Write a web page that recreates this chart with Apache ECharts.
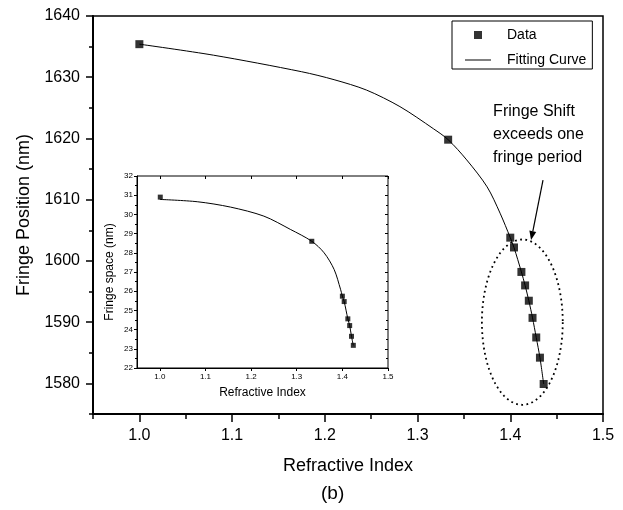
<!DOCTYPE html>
<html>
<head>
<meta charset="utf-8">
<script src="https://cdn.jsdelivr.net/npm/echarts@6/dist/echarts.min.js"></script>
<style>
	html, body { margin: 0; padding: 0; background: #fff; }
	#chart { width: 623px; height: 510px; }
</style>
</head>
<body>
<div id="chart"></div>
<script>
	// measured points (main plot)
	var dataX = [1.000, 1.333, 1.400, 1.404, 1.412, 1.416, 1.420, 1.424, 1.428, 1.432, 1.436];
	var dataY = [1635.4, 1619.8, 1603.8, 1602.2, 1598.2, 1596.0, 1593.5, 1590.7, 1587.5, 1584.2, 1579.9];

	// fitting curve
	var fitX = [1.000, 1.080, 1.175, 1.210, 1.245, 1.281, 1.317, 1.333, 1.353, 1.375, 1.389, 1.400, 1.404, 1.412, 1.416, 1.420, 1.424, 1.428, 1.432, 1.436];
	var fitY = [1635.4, 1633.6, 1630.9, 1629.6, 1627.9, 1625.2, 1621.6, 1619.8, 1616.5, 1612.1, 1607.8, 1603.8, 1602.2, 1598.2, 1596.0, 1593.5, 1590.7, 1587.5, 1584.2, 1579.9];

	// inset: fringe space
	var insetX = [1.001, 1.333, 1.400, 1.404, 1.412, 1.416, 1.420, 1.424];
	var insetY = [30.90, 28.60, 25.74, 25.46, 24.56, 24.21, 23.65, 23.18];
	var insetFitX = [1.000, 1.082, 1.155, 1.228, 1.286, 1.333, 1.360, 1.382, 1.396, 1.400, 1.404, 1.412, 1.416, 1.420, 1.424];
	var insetFitY = [30.78, 30.66, 30.38, 29.91, 29.22, 28.60, 28.00, 27.13, 26.10, 25.74, 25.46, 24.56, 24.21, 23.65, 23.18];

	// tick labels
	var xTicks = [1.0, 1.1, 1.2, 1.3, 1.4, 1.5];
	var yTicks = [1580, 1590, 1600, 1610, 1620, 1630, 1640];

	var FONT = 'Liberation Sans, Arial, sans-serif';
	var black = '#000';

	function zip(xs, ys) {
		var out = [];
		for (var i = 0; i < xs.length; i++) {
			out.push([xs[i], ys[i]]);
		}
		return out;
	}

	function oneDecimal(v) {
		return Number(v).toFixed(1);
	}
	function plain(v) {
		return String(Math.round(v));
	}

	var option = {
		animation: false,
		backgroundColor: '#fff',
		title: {
			text: '(b)',
			left: 316,
			top: 479,
			textStyle: { fontFamily: FONT, fontSize: 19, fontWeight: 'normal', color: black }
		},
		legend: {
			data: [
				{ name: 'Data', icon: 'path://M0,0H10V10H0Z' },
				{ name: 'Fitting Curve', icon: 'path://M0,0H26V1H0Z' }
			],
			orient: 'vertical',
			left: 452,
			top: 21,
			padding: [7, 6, 2, 13],
			itemWidth: 26,
			itemHeight: 8,
			itemGap: 11,
			borderColor: black,
			borderWidth: 1,
			backgroundColor: '#fff',
			selectedMode: false,
			textStyle: { fontFamily: FONT, fontSize: 14, color: black, padding: [0, 0, 0, 11] }
		},
		grid: [
			{ left: 93, right: 20, top: 16, bottom: 96, show: true, borderColor: black, borderWidth: 1.5 },
			{ left: 137, top: 176, width: 251, height: 192, show: true, borderColor: black, borderWidth: 1, backgroundColor: '#fff' }
		],
		xAxis: [
			{
				gridIndex: 0, type: 'value', position: 'bottom', min: 0.95, max: 1.5,
				axisLine: { lineStyle: { color: black, width: 2 } },
				axisTick: { show: true, customValues: xTicks, length: 8, lineStyle: { color: black, width: 1.5 } },
				splitLine: { show: false },
				axisLabel: { customValues: xTicks, formatter: oneDecimal, fontFamily: FONT, fontSize: 16, color: black, margin: 14 },
				name: 'Refractive Index', nameLocation: 'middle', nameGap: 43,
				nameTextStyle: { fontFamily: FONT, fontSize: 18, color: black }
			},
			{
				// short ticks every 0.05
				gridIndex: 0, type: 'value', position: 'bottom', min: 0.95, max: 1.5, interval: 0.05,
				axisLine: { show: false },
				axisTick: { show: true, length: 5, lineStyle: { color: black, width: 1.5 } },
				axisLabel: { show: false },
				splitLine: { show: false }
			},
			{
				gridIndex: 1, type: 'value', position: 'bottom', min: 0.95, max: 1.5,
				axisLine: { lineStyle: { color: black, width: 1 } },
				axisTick: { show: true, customValues: xTicks, length: 3, lineStyle: { color: black } },
				splitLine: { show: false },
				axisLabel: { customValues: xTicks, formatter: oneDecimal, fontFamily: FONT, fontSize: 8, color: black, margin: 5 },
				name: 'Refractive Index', nameLocation: 'middle', nameGap: 19,
				nameTextStyle: { fontFamily: FONT, fontSize: 12, color: black }
			},
			{
				gridIndex: 1, type: 'value', position: 'top', min: 0.95, max: 1.5,
				axisLine: { show: false },
				axisTick: { show: true, customValues: xTicks, inside: true, length: 3, lineStyle: { color: black } },
				axisLabel: { show: false },
				splitLine: { show: false }
			}
		],
		yAxis: [
			{
				gridIndex: 0, type: 'value', position: 'left', min: 1575, max: 1640,
				axisLine: { show: true, lineStyle: { color: black, width: 2 } },
				axisTick: { show: true, customValues: yTicks, length: 7, lineStyle: { color: black, width: 1.5 } },
				splitLine: { show: false },
				axisLabel: { customValues: yTicks, formatter: plain, fontFamily: FONT, fontSize: 16, color: black, margin: 13 },
				name: 'Fringe Position (nm)', nameLocation: 'middle', nameGap: 60,
				nameTextStyle: { fontFamily: FONT, fontSize: 18, color: black }
			},
			{
				// short ticks every 5 nm
				gridIndex: 0, type: 'value', position: 'left', min: 1575, max: 1640, interval: 5,
				axisLine: { show: false },
				axisTick: { show: true, length: 4, lineStyle: { color: black, width: 1.5 } },
				axisLabel: { show: false },
				splitLine: { show: false }
			},
			{
				gridIndex: 1, type: 'value', position: 'left', min: 22, max: 32, interval: 1,
				axisLine: { show: true, lineStyle: { color: black, width: 1 } },
				axisTick: { show: true, length: 3, lineStyle: { color: black } },
				minorTick: { show: true, splitNumber: 2, length: 2, lineStyle: { color: black } },
				splitLine: { show: false },
				axisLabel: { fontFamily: FONT, fontSize: 8, color: black, margin: 4 },
				name: 'Fringe space (nm)', nameLocation: 'middle', nameGap: 21,
				nameTextStyle: { fontFamily: FONT, fontSize: 12, color: black }
			},
			{
				gridIndex: 1, type: 'value', position: 'right', min: 22, max: 32, interval: 1,
				axisLine: { show: false },
				axisTick: { show: true, inside: true, length: 3, lineStyle: { color: black } },
				minorTick: { show: true, splitNumber: 2, length: 2, lineStyle: { color: black } },
				axisLabel: { show: false },
				splitLine: { show: false }
			}
		],
		series: [
			{
				name: 'Fitting Curve', type: 'line', xAxisIndex: 0, yAxisIndex: 0,
				data: zip(fitX, fitY), smooth: 0.3, symbol: 'none',
				lineStyle: { color: black, width: 1 }, itemStyle: { color: black }, z: 2
			},
			{
				name: 'Data', type: 'scatter', xAxisIndex: 0, yAxisIndex: 0,
				data: zip(dataX, dataY), symbol: 'rect', symbolSize: 8,
				itemStyle: { color: black }, z: 3
			},
			{
				name: 'inset fit', type: 'line', xAxisIndex: 2, yAxisIndex: 2,
				data: zip(insetFitX, insetFitY), smooth: 0.3, symbol: 'none',
				lineStyle: { color: black, width: 1 }, z: 4
			},
			{
				name: 'inset data', type: 'scatter', xAxisIndex: 2, yAxisIndex: 2,
				data: zip(insetX, insetY), symbol: 'rect', symbolSize: 5,
				itemStyle: { color: black }, z: 5
			}
		]
	};

	var chart = echarts.init(document.getElementById('chart'));
	chart.setOption(option);

	// annotations: dotted ellipse round the cluster, arrow and note
	var ellipseCenter = [1.413, 1590.0];
	var ellipseRadius = [0.0436, 13.5];
	var arrowFrom = [1.4353, 1613.2];
	var arrowTo = [1.4224, 1603.4];
	var noteAt = [1.3815, 1626.2];

	function px(p) {
		return chart.convertToPixel({ xAxisIndex: 0, yAxisIndex: 0 }, p);
	}

	var c = px(ellipseCenter);
	var r = px([ellipseCenter[0] + ellipseRadius[0], ellipseCenter[1] + ellipseRadius[1]]);
	var rx = r[0] - c[0], ry = c[1] - r[1];
	var ellipsePts = [];
	for (var k = 0; k <= 120; k++) {
		var t = k / 120 * Math.PI * 2;
		ellipsePts.push([c[0] + rx * Math.cos(t), c[1] + ry * Math.sin(t)]);
	}

	var a0 = px(arrowFrom), a1 = px(arrowTo);
	var dx = a1[0] - a0[0], dy = a1[1] - a0[1];
	var len = Math.sqrt(dx * dx + dy * dy);
	var ux = dx / len, uy = dy / len;
	var headLen = 9, headW = 3.5;
	var base = [a1[0] - ux * headLen, a1[1] - uy * headLen];
	var note = px(noteAt);

	chart.setOption({
		graphic: [
			{
				type: 'polyline', silent: true, z: 10,
				shape: { points: ellipsePts },
				style: { fill: null, stroke: black, lineWidth: 1.8, lineDash: [1.8, 3.4] }
			},
			{
				type: 'line', silent: true, z: 10,
				shape: { x1: a0[0], y1: a0[1], x2: base[0], y2: base[1] },
				style: { stroke: black, lineWidth: 1.2 }
			},
			{
				type: 'polygon', silent: true, z: 10,
				shape: {
					points: [
						a1,
						[base[0] - uy * headW, base[1] + ux * headW],
						[base[0] + uy * headW, base[1] - ux * headW]
					]
				},
				style: { fill: black }
			},
			{
				type: 'text', silent: true, z: 10,
				left: note[0], top: note[1],
				style: {
					text: 'Fringe Shift\nexceeds one\nfringe period',
					font: '16px ' + FONT,
					lineHeight: 23,
					fill: black
				}
			}
		]
	});
</script>
</body>
</html>
